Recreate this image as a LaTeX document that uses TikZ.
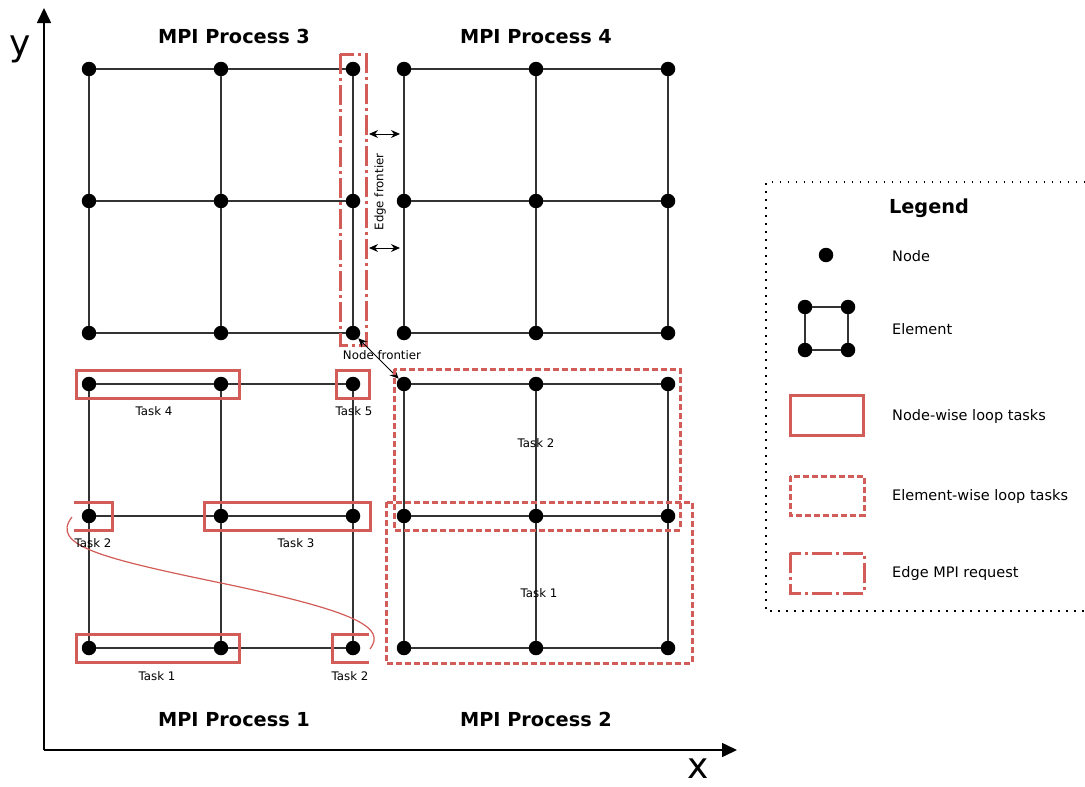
\documentclass[tikz,border=0pt]{standalone}
\usepackage{fontspec}
\setmainfont{DejaVu Sans}
\usetikzlibrary{arrows.meta}
\definecolor{taskred}{RGB}{210,92,88}
\begin{document}
\begin{tikzpicture}[x=1pt,y=-1pt,
  dot/.style={circle,fill=black,inner sep=0pt,minimum size=14.5pt},
  gridline/.style={draw=black!80,line width=1.1pt},
  nodetask/.style={draw=taskred,line width=3pt},
  elemtask/.style={draw=taskred,line width=3pt,dash pattern=on 6pt off 3pt},
  edgereq/.style={draw=taskred,line width=3pt,dash pattern=on 20pt off 4pt on 3pt off 4pt},
  titletext/.style={font=\fontsize{19.3}{22}\selectfont\bfseries,anchor=base},
  smalltext/.style={font=\fontsize{11.8}{13}\selectfont,anchor=base},
  legtext/.style={font=\fontsize{14.5}{17}\selectfont,anchor=base west,inner sep=0pt},
  axislabel/.style={font=\fontsize{36}{40}\selectfont,anchor=base,inner sep=0pt},
  axisline/.style={line width=1.6pt,-{Triangle[length=15pt,width=14pt]}},
  smallarrow/.style={line width=1pt,{Stealth[length=9pt,width=8pt]}-{Stealth[length=9pt,width=8pt]}},
]
\useasboundingbox (0,0) rectangle (1085,787);

% axes
\coordinate (O) at (44,750);
\coordinate (ytop) at (44,8);
\coordinate (xend) at (737,750);
\draw[axisline] (O) -- (ytop);
\draw[axisline] (O) -- (xend);
\node[axislabel] (ylab) at (20,55) {y};
\node[axislabel] (xlab) at (698,778) {x};

% grids
\foreach \p/\ox/\oy in {3/89/69, 4/404/69, 1/89/384, 2/404/384} {
  \foreach \i in {0,1,2} {
    \foreach \j in {0,1,2} {
      \node[dot] (p\p-\i\j) at ({\ox+132*\i},{\oy+132*\j}) {};
    }
  }
}
\foreach \p in {1,2,3,4} {
  \foreach \a/\b in {0/1,1/2} {
    \foreach \c in {0,1,2} {
      \draw[gridline] (p\p-\a\c) -- (p\p-\b\c);
      \draw[gridline] (p\p-\c\a) -- (p\p-\c\b);
    }
  }
}

% titles
\node[titletext] (t3) at (234,43) {MPI Process 3};
\node[titletext] (t4) at (536,43) {MPI Process 4};
\node[titletext] (t1) at (234,726) {MPI Process 1};
\node[titletext] (t2) at (536,726) {MPI Process 2};

% edge MPI request
\draw[edgereq] (340,54) rectangle (366,345);
\coordinate (ef1a) at (369,134); \coordinate (ef1b) at (400,134);
\coordinate (ef2a) at (369,248); \coordinate (ef2b) at (400,248);
\draw[smallarrow] (ef1a) -- (ef1b);
\draw[smallarrow] (ef2a) -- (ef2b);
\node[font=\fontsize{11.8}{13}\selectfont,rotate=90] (eflab) at (380,192) {Edge frontier};

% node frontier
\draw[smallarrow] (p3-22) -- (p2-00);
\node[smalltext] (nflab) at (382,359) {Node frontier};

% process 1 node-wise tasks
\draw[nodetask] (76,370) rectangle (239,398);
\draw[nodetask] (336,370) rectangle (369,398);
\draw[nodetask] (74,502) -- (112,502) -- (112,530) -- (74,530);
\draw[nodetask] (204,502) rectangle (370,530);
\draw[nodetask] (76,634) rectangle (239,662);
\draw[nodetask] (369,634) -- (332,634) -- (332,662) -- (369,662);
\coordinate (c1) at (370,649);
\coordinate (c2) at (72,517);
\draw[taskred,line width=1.2pt] (c1) .. controls (386,628) and (360,612) .. (221,583) .. controls (100,558) and (50,545) .. (c2);
\node[smalltext] (l4) at (154,415) {Task 4};
\node[smalltext] (l5) at (354,415) {Task 5};
\node[smalltext] (l2a) at (93,547) {Task 2};
\node[smalltext] (l3) at (296,547) {Task 3};
\node[smalltext] (l1) at (157,680) {Task 1};
\node[smalltext] (l2b) at (350,680) {Task 2};

% process 2 element-wise tasks
\draw[elemtask] (394,369) rectangle (680,530);
\draw[elemtask] (386,502) rectangle (692,663);
\node[smalltext] (e2) at (536,447) {Task 2};
\node[smalltext] (e1) at (539,597) {Task 1};

% legend
\draw[line width=1.5pt,dash pattern=on 1.5pt off 6.5pt] (1085,182) -- (766,182) -- (766,611) -- (1085,611);
\node[titletext] (legt) at (929,213) {Legend};
\node[dot] (lnode) at (826,255) {};
\node[legtext] (lnl) at (892,261) {Node};
\node[dot] (le1) at (805,307) {};
\node[dot] (le2) at (848,307) {};
\node[dot] (le3) at (805,350) {};
\node[dot] (le4) at (848,350) {};
\draw[gridline] (le1) -- (le2);
\draw[gridline] (le3) -- (le4);
\draw[gridline] (le1) -- (le3);
\draw[gridline] (le2) -- (le4);
\node[legtext] (lel) at (892,334) {Element};
\draw[nodetask] (790,395) rectangle (863,435);
\node[legtext] (lnw) at (892,420) {Node-wise loop tasks};
\draw[elemtask] (790,476) rectangle (864,515);
\node[legtext] (lew) at (892,500) {Element-wise loop tasks};
\draw[edgereq] (790,553) rectangle (864,593);
\node[legtext] (lem) at (892,577) {Edge MPI request};
\end{tikzpicture}
\end{document}
